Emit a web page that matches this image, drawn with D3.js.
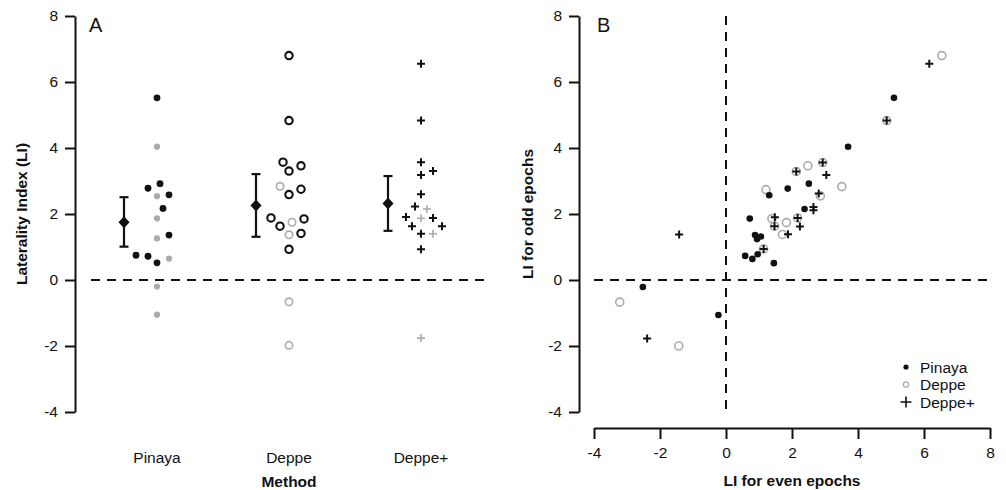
<!DOCTYPE html>
<html>
<head>
<meta charset="utf-8">
<script src="https://cdn.jsdelivr.net/npm/d3@7"></script>
<style>
  html, body { margin: 0; padding: 0; background: #fff; }
  svg { display: block; font-family: "Liberation Sans", Arial, sans-serif; }
</style>
</head>
<body>
<svg id="chart" width="1006" height="490"></svg>
<script>
// ---------- DATA ----------
const categories = ["Pinaya", "Deppe", "Deppe+"];
const yTicks = [-4, -2, 0, 2, 4, 6, 8];
const xTicksB = [-4, -2, 0, 2, 4, 6, 8];

// Panel A: LI per subject, with significance flag (1 = black, 0 = grey)
const pinayaLI  = [5.52, 4.04, 2.92, 2.78, 2.58, 2.54, 2.17, 1.87, 1.36, 1.26, 0.75, 0.72, 0.65, 0.52, -0.20, -1.05];
const pinayaSig = [1, 0, 1, 1, 1, 0, 1, 0, 1, 0, 1, 1, 0, 1, 0, 0];
const deppeLI   = [6.80, 4.83, 3.57, 3.46, 3.30, 2.84, 2.75, 2.59, 1.88, 1.85, 1.75, 1.63, 1.41, 1.37, 0.93, -0.66, -1.98];
const deppeSig  = [1, 1, 1, 1, 1, 0, 1, 1, 1, 1, 0, 1, 1, 0, 1, 0, 0];
const deppePlusLI  = [6.55, 4.83, 3.57, 3.30, 3.18, 2.60, 2.23, 2.15, 1.91, 1.88, 1.87, 1.63, 1.63, 1.40, 1.40, 0.93, -1.76];
const deppePlusSig = [1, 1, 1, 1, 1, 1, 1, 0, 1, 1, 0, 1, 1, 1, 0, 1, 0];

// Panel A: group means with interval bounds
const groupMean = [1.75, 2.26, 2.32];
const groupLow  = [1.01, 1.31, 1.49];
const groupHigh = [2.51, 3.21, 3.15];

// Panel B: LI for even epochs (x) vs odd epochs (y)
const pinayaEven = [5.09, 3.70, 2.51, 1.87, 1.31, 2.38, 0.72, 0.88, 0.94, 1.06, 0.58, 0.80, 0.96, 1.45, -2.52, -0.23];
const pinayaOdd  = [5.52, 4.04, 2.92, 2.77, 2.57, 2.15, 1.86, 1.36, 1.24, 1.32, 0.73, 0.64, 0.78, 0.51, -0.21, -1.06];
const deppeEven  = [6.54, 4.87, 2.48, 2.93, 2.13, 3.51, 1.21, 2.86, 2.17, 1.39, 1.47, 1.83, 1.71, 1.14, -3.22, -1.43];
const deppeOdd   = [6.80, 4.83, 3.46, 3.56, 3.29, 2.83, 2.74, 2.55, 1.88, 1.86, 1.63, 1.74, 1.38, 0.94, -0.67, -2.00];
const deppePlusEven = [6.16, 4.87, 2.93, 2.13, 3.04, 2.81, 2.65, 2.65, 1.48, 2.17, 2.24, 1.47, 1.88, 1.14, -1.42, -2.39];
const deppePlusOdd  = [6.55, 4.83, 3.56, 3.29, 3.18, 2.62, 2.21, 2.11, 1.90, 1.88, 1.62, 1.63, 1.39, 0.94, 1.38, -1.77];

// ---------- LAYOUT ----------
const svg = d3.select("#chart");
const FONT = 15.5;
const GREY = "#ababab";
const INK = "#111";

svg.append("rect").attr("width", 1006).attr("height", 490).attr("fill", "#fff");

const yA = d3.scaleLinear().domain([-4, 8]).range([412, 16]);
const xA = d3.scaleLinear().domain([0.5, 3.5]).range([91, 487]);
const yB = yA.copy();
const xB = d3.scaleLinear().domain([-4, 8]).range([594, 990]);
const fmt = d => String(d);

function styleAxis(g) {
  g.select(".domain").attr("stroke", INK).attr("stroke-width", 2);
  g.selectAll(".tick line").attr("stroke", INK).attr("stroke-width", 2);
  g.selectAll(".tick text").attr("fill", INK).style("font-size", FONT + "px")
    .style("font-family", "'Liberation Sans', Arial, sans-serif");
}

// ---------- PANEL A ----------
const gA = svg.append("g");
gA.append("g").attr("transform", "translate(75,0)")
  .call(d3.axisLeft(yA).tickValues(yTicks).tickSize(10).tickSizeOuter(0).tickPadding(7).tickFormat(fmt))
  .call(styleAxis);

gA.append("line")
  .attr("x1", xA(0.5)).attr("x2", xA(3.5)).attr("y1", yA(0)).attr("y2", yA(0))
  .attr("stroke", INK).attr("stroke-width", 2).attr("stroke-dasharray", "9,7");

// category labels
gA.selectAll(".cat").data(categories).join("text")
  .attr("x", (d, i) => xA(i + 1)).attr("y", 463)
  .attr("text-anchor", "middle").attr("fill", INK).style("font-size", FONT + "px").text(d => d);

gA.append("text").attr("x", xA(2)).attr("y", 487).attr("text-anchor", "middle")
  .attr("fill", INK).style("font-size", "15.5px").style("font-weight", "bold").text("Method");

gA.append("text").attr("transform", `translate(27,${yA(2)}) rotate(-90)`)
  .attr("text-anchor", "middle").attr("fill", INK).style("font-size", "15.5px").style("font-weight", "bold")
  .text("Laterality Index (LI)");

gA.append("text").attr("x", 89).attr("y", 32).attr("fill", INK).style("font-size", "20px").text("A");

// beeswarm placement (collision avoidance) for each category
function swarm(vals, cx, D, step) {
  const placed = [];
  const xs = new Array(vals.length);
  const order = vals.map((v, i) => i).sort((a, b) => vals[a] - vals[b]);
  order.forEach(i => {
    const py = yA(vals[i]);
    let k = 0, off = 0;
    while (true) {
      const cand = k === 0 ? 0 : (k % 2 ? 1 : -1) * Math.ceil(k / 2) * step;
      if (placed.every(p => Math.hypot(p[0] - (cx + cand), p[1] - py) >= D)) { off = cand; break; }
      k++;
    }
    xs[i] = cx + off;
    placed.push([cx + off, py]);
  });
  return xs;
}

function plusPath(x, y, h) {
  return `M${x - h},${y}H${x + h}M${x},${y - h}V${y + h}`;
}

const groupsA = [
  { vals: pinayaLI, sig: pinayaSig, kind: "dot" },
  { vals: deppeLI, sig: deppeSig, kind: "circle" },
  { vals: deppePlusLI, sig: deppePlusSig, kind: "plus" }
];

groupsA.forEach((grp, gi) => {
  const cx = xA(gi + 1);
  const xs = swarm(grp.vals, cx, 10.5, 3);
  const pts = grp.vals.map((v, i) => ({ v, s: grp.sig[i], x: xs[i] }));
  const sorted = pts.slice().sort((a, b) => a.s - b.s);
  sorted.forEach(p => {
    const col = p.s ? INK : GREY;
    if (grp.kind === "dot") {
      gA.append("circle").attr("cx", p.x).attr("cy", yA(p.v)).attr("r", p.s ? 3.4 : 3.1).attr("fill", col);
    } else if (grp.kind === "circle") {
      gA.append("circle").attr("cx", p.x).attr("cy", yA(p.v)).attr("r", 3.7)
        .attr("fill", "none").attr("stroke", col).attr("stroke-width", p.s ? 2.1 : 1.6);
    } else {
      gA.append("path").attr("d", plusPath(p.x, yA(p.v), 4)).attr("stroke", col)
        .attr("stroke-width", p.s ? 2 : 1.6).attr("fill", "none");
    }
  });
  // mean + interval
  const mx = xA(gi + 1 - 0.25);
  gA.append("line").attr("x1", mx).attr("x2", mx).attr("y1", yA(groupLow[gi])).attr("y2", yA(groupHigh[gi]))
    .attr("stroke", INK).attr("stroke-width", 2.2);
  [groupLow[gi], groupHigh[gi]].forEach(b => {
    gA.append("line").attr("x1", mx - 4.5).attr("x2", mx + 4.5).attr("y1", yA(b)).attr("y2", yA(b))
      .attr("stroke", INK).attr("stroke-width", 2.2);
  });
  const my = yA(groupMean[gi]);
  gA.append("path").attr("d", `M${mx},${my - 6}L${mx + 5.5},${my}L${mx},${my + 6}L${mx - 5.5},${my}Z`).attr("fill", INK);
});

// ---------- PANEL B ----------
const gB = svg.append("g");
gB.append("g").attr("transform", "translate(579,0)")
  .call(d3.axisLeft(yB).tickValues(yTicks).tickSize(10).tickSizeOuter(0).tickPadding(7).tickFormat(fmt))
  .call(styleAxis);
gB.append("g").attr("transform", "translate(0,428)")
  .call(d3.axisBottom(xB).tickValues(xTicksB).tickSize(11).tickSizeOuter(0).tickPadding(8).tickFormat(fmt))
  .call(styleAxis);

gB.append("line").attr("x1", xB(-4)).attr("x2", xB(8)).attr("y1", yB(0)).attr("y2", yB(0))
  .attr("stroke", INK).attr("stroke-width", 2).attr("stroke-dasharray", "9,7");
gB.append("line").attr("x1", xB(0)).attr("x2", xB(0)).attr("y1", yB(8)).attr("y2", yB(-4))
  .attr("stroke", INK).attr("stroke-width", 2).attr("stroke-dasharray", "9,7");

gB.append("text").attr("x", xB(2)).attr("y", 486).attr("text-anchor", "middle")
  .attr("fill", INK).style("font-size", "15.5px").style("font-weight", "bold").text("LI for even epochs");
gB.append("text").attr("transform", `translate(533,${yB(2)}) rotate(-90)`)
  .attr("text-anchor", "middle").attr("fill", INK).style("font-size", "15.5px").style("font-weight", "bold")
  .text("LI for odd epochs");
gB.append("text").attr("x", 597).attr("y", 32).attr("fill", INK).style("font-size", "20px").text("B");

// Deppe (grey open circles)
deppeEven.forEach((e, i) => {
  gB.append("circle").attr("cx", xB(e)).attr("cy", yB(deppeOdd[i])).attr("r", 4)
    .attr("fill", "none").attr("stroke", GREY).attr("stroke-width", 1.6);
});
// Pinaya (black dots)
pinayaEven.forEach((e, i) => {
  gB.append("circle").attr("cx", xB(e)).attr("cy", yB(pinayaOdd[i])).attr("r", 3.3).attr("fill", INK);
});
// Deppe+ (black plus)
deppePlusEven.forEach((e, i) => {
  gB.append("path").attr("d", plusPath(xB(e), yB(deppePlusOdd[i]), 4))
    .attr("stroke", INK).attr("stroke-width", 2).attr("fill", "none");
});

// Legend
const leg = gB.append("g");
const legX = 906;
const legItems = [
  { label: "Pinaya", y: 367 },
  { label: "Deppe", y: 384.5 },
  { label: "Deppe+", y: 402 }
];
leg.append("circle").attr("cx", legX).attr("cy", legItems[0].y).attr("r", 2.6).attr("fill", INK);
leg.append("circle").attr("cx", legX).attr("cy", legItems[1].y).attr("r", 2.6).attr("fill", "none")
  .attr("stroke", GREY).attr("stroke-width", 1.3);
leg.append("path").attr("d", plusPath(legX, legItems[2].y, 5.5)).attr("stroke", INK).attr("stroke-width", 1.6);
legItems.forEach(it => {
  leg.append("text").attr("x", 920).attr("y", it.y + 5.5).attr("fill", INK).style("font-size", FONT + "px").text(it.label);
});
</script>
</body>
</html>
